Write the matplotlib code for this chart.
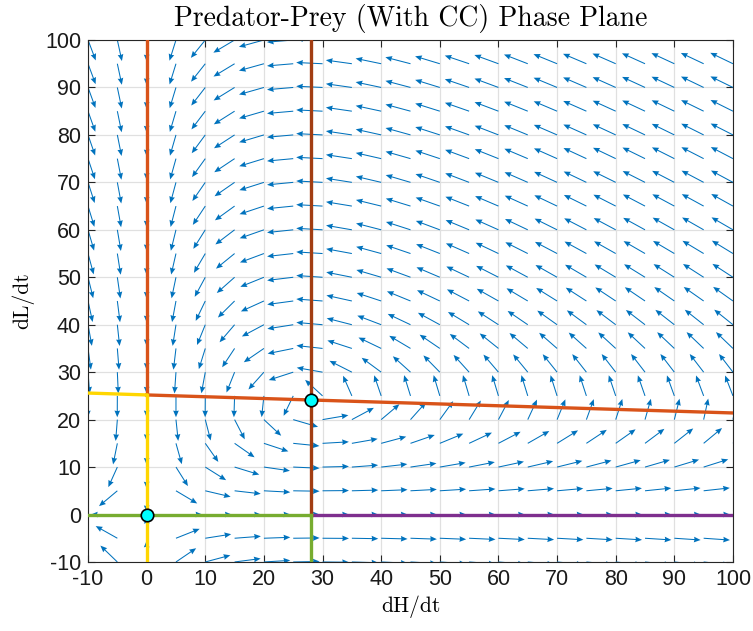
import numpy as np
import matplotlib
matplotlib.use('Agg')
import matplotlib.pyplot as plt

plt.rcParams['axes.unicode_minus'] = False

# model parameters (prey H with carrying capacity, predator L)
r_prey = 0.63
K_cap = 663.0
b_pred = 0.025
c_conv = 0.016
d_death = 0.448

# grid of arrows
H_grid = np.arange(-10, 101, 5)
L_grid = np.arange(-10, 101, 5)
arrow_len = 4.5

# nullcline segments
orange_vert_H = [0, 0]
orange_vert_L = [25.2, 100]
orange_slant_H = [0, 100]
orange_slant_L = [25.2, 21.4]
brown_vert_H = [28, 28]
brown_vert_L = [0, 100]
purple_H = [28, 100]
purple_L = [0, 0]
yellow_vert_H = [0, 0]
yellow_vert_L = [-10, 25.2]
yellow_slant_H = [-10, 0]
yellow_slant_L = [25.6, 25.2]
green_horiz_H = [-10, 28]
green_horiz_L = [0, 0]
green_vert_H = [28, 28]
green_vert_L = [-10, 0]

# equilibrium points
eq_H = [0, 28]
eq_L = [0, 24.1]

HH, LL = np.meshgrid(H_grid, L_grid)
dH = r_prey * HH * (1 - HH / K_cap) - b_pred * HH * LL
dL = c_conv * HH * LL - d_death * LL
mag = np.sqrt(dH**2 + dL**2)
mag[mag == 0] = np.nan
U = arrow_len * dH / mag
V = arrow_len * dL / mag

fig = plt.figure(figsize=(7.53, 6.31), dpi=100)
ax = fig.add_axes([0.1169, 0.1094, 0.8565, 0.8272])

ax.quiver(HH, LL, U, V, angles='xy', scale_units='xy', scale=1,
          color='#0072BD', width=0.0016, headwidth=5.5, headlength=6.5,
          headaxislength=6, zorder=2)

lw = 2.4
ax.plot(orange_vert_H, orange_vert_L, color='#D95319', lw=lw, zorder=3)
ax.plot(orange_slant_H, orange_slant_L, color='#D95319', lw=lw, zorder=3)
ax.plot(purple_H, purple_L, color='#7E2F8E', lw=lw, zorder=3)
ax.plot(brown_vert_H, brown_vert_L, color='#A23D12', lw=lw, zorder=4)
ax.plot(yellow_vert_H, yellow_vert_L, color='#FFD600', lw=lw, zorder=4)
ax.plot(yellow_slant_H, yellow_slant_L, color='#FFD600', lw=lw, zorder=4)
ax.plot(green_horiz_H, green_horiz_L, color='#77AC30', lw=lw, zorder=5)
ax.plot(green_vert_H, green_vert_L, color='#77AC30', lw=lw, zorder=5)
ax.plot(eq_H, eq_L, 'o', ms=9, mfc='#00FFFF', mec='black', mew=1.2,
        zorder=6, clip_on=False)

ax.set_xlim(-10, 100)
ax.set_ylim(-10, 100)
ax.set_xticks(np.arange(-10, 101, 10))
ax.set_yticks(np.arange(-10, 101, 10))
ax.grid(True, color='#E0E0E0', lw=0.9)
ax.set_axisbelow(True)
ax.tick_params(direction='in', top=True, right=True, length=5, width=0.8,
               colors='#262626', labelsize=15.5, pad=5)
for lbl in ax.get_xticklabels() + ax.get_yticklabels():
    lbl.set_family(['Liberation Sans', 'DejaVu Sans'])
    lbl.set_color('#1a1a1a')
for s in ax.spines.values():
    s.set_color('#262626')
    s.set_linewidth(0.8)

serif = ['cmr10', 'DejaVu Serif']
ax.set_title('Predator-Prey (With CC) Phase Plane', family=serif,
             fontsize=20, pad=10)
ax.set_xlabel('dH/dt', family=serif, fontsize=15.5, labelpad=4)
ax.set_ylabel('dL/dt', family=serif, fontsize=15.5, labelpad=8)

fig.savefig('out.png', dpi=100)
